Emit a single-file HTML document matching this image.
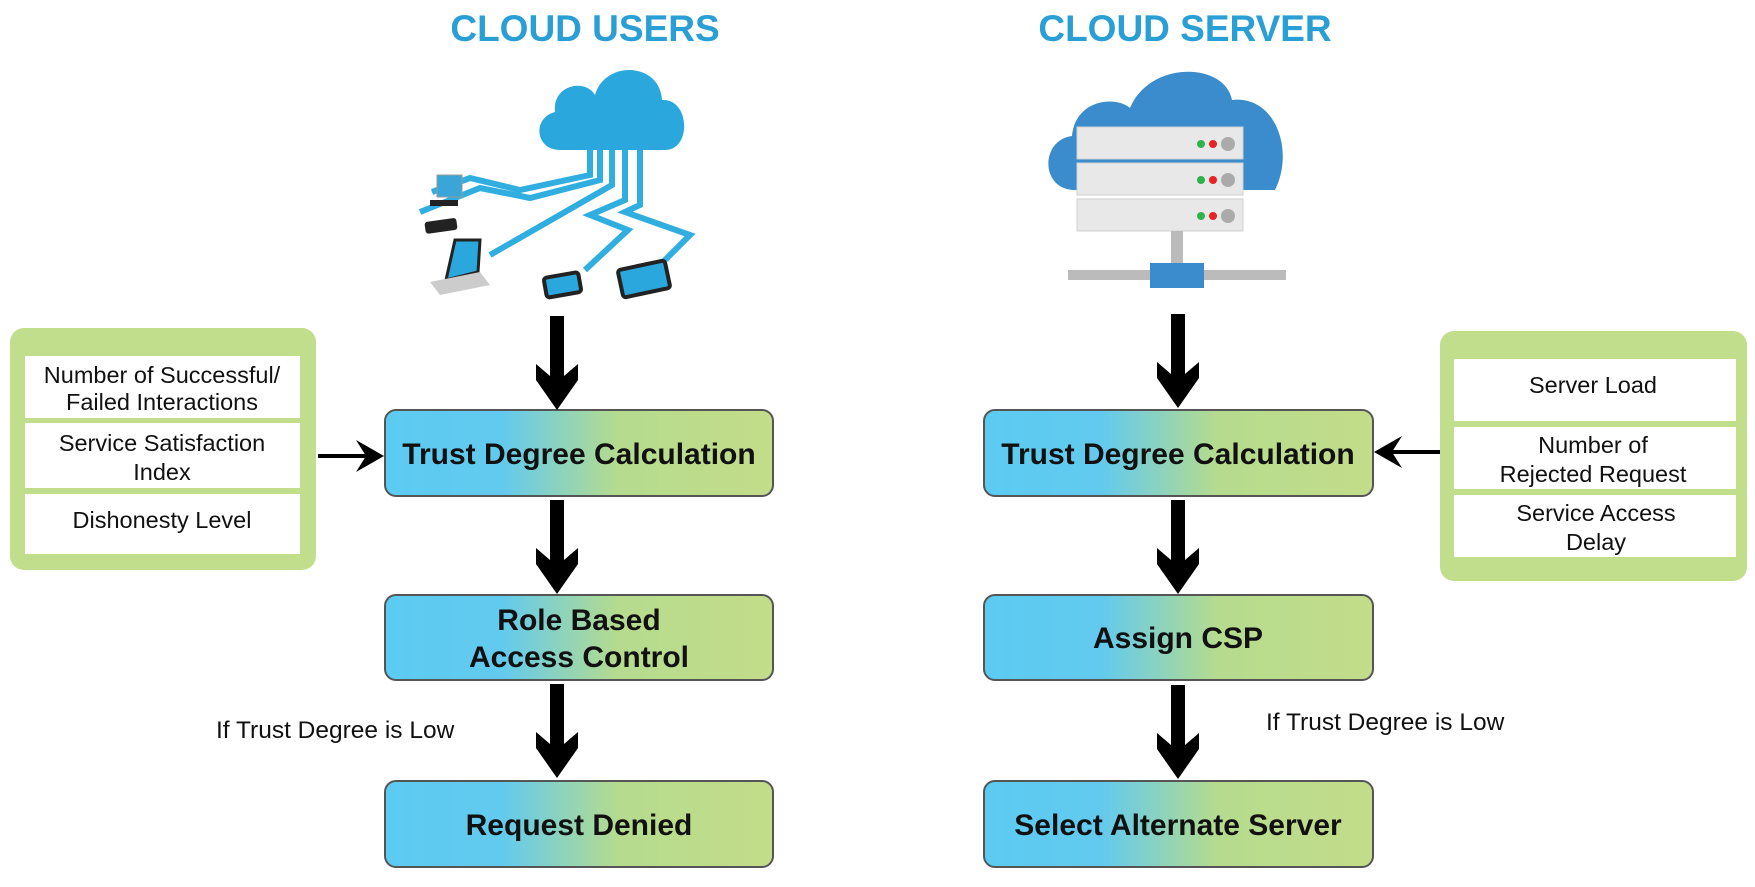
<!DOCTYPE html>
<html><head><meta charset="utf-8"><style>
html,body{margin:0;padding:0;background:#fff}
svg{display:block}
text{font-family:"Liberation Sans",Arial,sans-serif}
</style></head><body>
<svg width="1755" height="887" viewBox="0 0 1755 887" xmlns="http://www.w3.org/2000/svg">
<defs>
<linearGradient id="g" x1="0" x2="1" y1="0" y2="0">
<stop offset="0" stop-color="#5ccbf2"/><stop offset="0.3" stop-color="#62caee"/>
<stop offset="0.6" stop-color="#b5db8e"/><stop offset="1" stop-color="#c3dd8a"/>
</linearGradient>
<g id="arr"><rect x="-7" y="0" width="14" height="62" fill="#000"/><path d="M-21,48 L-7,60 L7,60 L21,48 L21,64 L0,94 L-21,64Z" fill="#000"/></g>
</defs>
<text x="585" y="41" text-anchor="middle" font-size="37" font-weight="bold" fill="#2a9fd6">CLOUD USERS</text>
<text x="1185" y="41" text-anchor="middle" font-size="37" font-weight="bold" fill="#2a9fd6">CLOUD SERVER</text>

<!-- cloud users illustration -->
<g>
<path d="M560,150 C535,150 532,118 555,112 C552,85 585,78 595,95 C605,60 660,62 662,100 C690,98 692,150 665,150 Z" fill="#2aa8de"/>
<g stroke="#31aee0" stroke-width="6" fill="none">
<path d="M590,150 L590,175 L520,190 L470,178 L432,192"/>
<path d="M600,150 L600,180 L530,198 L480,188 L420,212"/>
<path d="M612,150 L612,185 L490,255"/>
<path d="M625,150 L625,200 L590,215 L628,230 L585,270"/>
<path d="M640,150 L640,205 L625,212 L690,235 L660,265"/>
</g>
<rect x="437" y="175" width="25" height="22" fill="#3aa6d8" stroke="#999"/>
<rect x="430" y="200" width="28" height="6" fill="#222"/>
<rect x="425" y="220" width="32" height="12" rx="3" fill="#222" transform="rotate(-8 440 226)"/>
<path d="M455,240 L480,240 L478,272 L446,280 Z" fill="#2aa8de" stroke="#222" stroke-width="3"/>
<path d="M430,282 L480,272 L490,285 L440,295 Z" fill="#ccc"/>
<rect x="545" y="275" width="35" height="20" rx="3" fill="#2aa8de" stroke="#222" stroke-width="4" transform="rotate(-10 562 285)"/>
<rect x="620" y="265" width="48" height="28" rx="3" fill="#2aa8de" stroke="#222" stroke-width="4" transform="rotate(-12 644 279)"/>
</g>

<!-- cloud server illustration -->
<g>
<path d="M1075,190 C1040,190 1040,140 1072,136 C1075,100 1115,95 1130,108 C1150,60 1225,62 1232,100 C1275,95 1295,150 1275,190 Z" fill="#3a8ccc"/>
<g fill="#e8e8e8" stroke="#cfcfcf">
<rect x="1077" y="127" width="166" height="32"/>
<rect x="1077" y="163" width="166" height="32"/>
<rect x="1077" y="199" width="166" height="32"/>
</g>
<g fill="#2db34a"><circle cx="1201" cy="144" r="4"/><circle cx="1201" cy="180" r="4"/><circle cx="1201" cy="216" r="4"/></g>
<g fill="#e52525"><circle cx="1213" cy="144" r="4"/><circle cx="1213" cy="180" r="4"/><circle cx="1213" cy="216" r="4"/></g>
<g fill="#aaa"><circle cx="1228" cy="144" r="7"/><circle cx="1228" cy="180" r="7"/><circle cx="1228" cy="216" r="7"/></g>
<rect x="1171" y="231" width="12" height="35" fill="#bbb"/>
<rect x="1068" y="270" width="218" height="10" fill="#bbb"/>
<rect x="1150" y="263" width="54" height="25" fill="#3a8ccc"/>
</g>

<!-- left green panel -->
<rect x="10" y="328" width="306" height="242" rx="14" fill="#c0de8c"/>
<rect x="25" y="356" width="275" height="62" fill="#fff"/>
<rect x="25" y="423" width="275" height="65" fill="#fff"/>
<rect x="25" y="494" width="275" height="60" fill="#fff"/>
<g font-size="23.5" text-anchor="middle" fill="#111">
<text x="162" y="383">Number of Successful/</text>
<text x="162" y="410">Failed Interactions</text>
<text x="162" y="451">Service Satisfaction</text>
<text x="162" y="480">Index</text>
<text x="162" y="528">Dishonesty Level</text>
</g>

<!-- right green panel -->
<rect x="1440" y="331" width="307" height="250" rx="14" fill="#c0de8c"/>
<rect x="1454" y="359" width="282" height="62" fill="#fff"/>
<rect x="1454" y="427" width="282" height="62" fill="#fff"/>
<rect x="1454" y="495" width="282" height="62" fill="#fff"/>
<g font-size="23.5" text-anchor="middle" fill="#111">
<text x="1593" y="393">Server Load</text>
<text x="1593" y="453">Number of</text>
<text x="1593" y="482">Rejected Request</text>
<text x="1596" y="521">Service Access</text>
<text x="1596" y="550">Delay</text>
</g>

<!-- flow boxes -->
<g fill="url(#g)" stroke="#555" stroke-width="2">
<rect x="385" y="410" width="388" height="86" rx="11"/>
<rect x="385" y="595" width="388" height="85" rx="11"/>
<rect x="385" y="781" width="388" height="86" rx="11"/>
<rect x="984" y="410" width="389" height="86" rx="11"/>
<rect x="984" y="595" width="389" height="85" rx="11"/>
<rect x="984" y="781" width="389" height="86" rx="11"/>
</g>
<g font-size="30" font-weight="bold" text-anchor="middle" fill="#111">
<text x="579" y="464">Trust Degree Calculation</text>
<text x="579" y="630">Role Based</text>
<text x="579" y="667">Access Control</text>
<text x="579" y="835">Request Denied</text>
<text x="1178" y="464">Trust Degree Calculation</text>
<text x="1178" y="648">Assign CSP</text>
<text x="1178" y="835">Select Alternate Server</text>
</g>

<!-- vertical arrows -->
<use href="#arr" transform="translate(557,316)"/>
<use href="#arr" transform="translate(557,500)"/>
<use href="#arr" transform="translate(557,684)"/>
<use href="#arr" transform="translate(1178,314)"/>
<use href="#arr" transform="translate(1178,500)"/>
<use href="#arr" transform="translate(1178,685)"/>

<!-- side arrows -->
<rect x="318" y="454" width="52" height="4" fill="#000"/>
<path d="M384,456 L356,440 L366,456 L356,472 Z" fill="#000"/>
<rect x="1388" y="450" width="52" height="4" fill="#000"/>
<path d="M1374,452 L1402,436 L1392,452 L1402,468 Z" fill="#000"/>

<g font-size="24.5" fill="#111">
<text x="216" y="738">If Trust Degree is Low</text>
<text x="1266" y="730">If Trust Degree is Low</text>
</g>
</svg>
</body></html>
